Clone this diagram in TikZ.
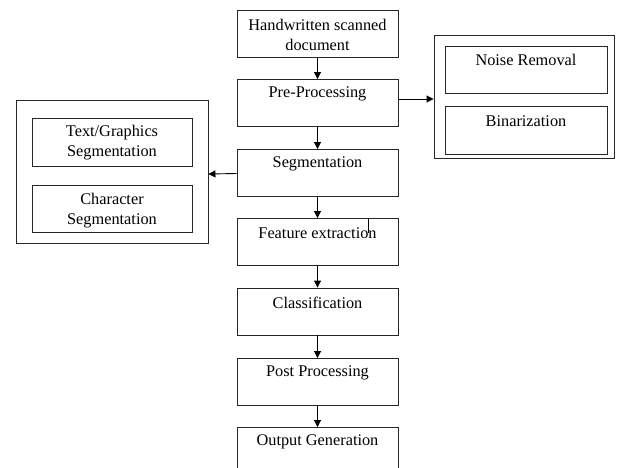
\documentclass[tikz,border=0pt]{standalone}
\usepackage{fontspec}
\setmainfont{Liberation Serif}
\usetikzlibrary{arrows.meta}
\begin{document}
\begin{tikzpicture}[x=1pt,y=-1pt,
  box/.style={draw=black!85, line width=0.9pt, inner sep=0pt, minimum width=161pt, minimum height=47pt},
  sbox/.style={draw=black!85, line width=0.9pt, inner sep=0pt},
  lbl/.style={font=\fontsize{16.3}{20.5}\selectfont, align=center, inner sep=0pt},
  arr/.style={line width=0.9pt, -{Triangle[length=7pt,width=7pt]}}]
\useasboundingbox (0,0) rectangle (618,467);
\clip (0,0) rectangle (618,467);
% main column
\node[box] (hw) at (317.5,33.5) {};
\node[lbl] (hwt) at (317.5,35) {Handwritten scanned\\document};
\node[box] (pre) at (317.5,103) {};
\node[lbl] (pret) at ([yshift=-15pt]pre.north) {Pre-Processing};
\node[box] (seg) at (317.5,173) {};
\node[lbl] (segt) at ([yshift=-15pt]seg.north) {Segmentation};
\node[box] (feat) at (317.5,242) {};
\node[lbl] (featt) at ([yshift=-15pt]feat.north) {Feature extraction};
\node[box] (cls) at (317.5,311.5) {};
\node[lbl] (clst) at ([yshift=-15pt]cls.north) {Classification};
\node[box] (post) at (317.5,382) {};
\node[lbl] (postt) at ([yshift=-15pt]post.north) {Post Processing};
\node[box] (out) at (317.5,451) {};
\node[lbl] (outt) at ([yshift=-15pt]out.north) {Output Generation};
% right group
\node[sbox, minimum width=180pt, minimum height=123pt] (rgrp) at (524,96.5) {};
\node[sbox, minimum width=162pt, minimum height=47pt] (noise) at (526,69.5) {};
\node[lbl] (noiset) at ([yshift=-14pt]noise.north) {Noise Removal};
\node[sbox, minimum width=162pt, minimum height=48pt] (bin) at (526,130) {};
\node[lbl] (bint) at ([yshift=-16pt]bin.north) {Binarization};
% left group
\node[sbox, minimum width=192pt, minimum height=143pt] (lgrp) at (112,171.5) {};
\node[sbox, minimum width=160pt, minimum height=48pt] (tg) at (112,142) {};
\node[lbl] (tgt) at ([yshift=-25pt]tg.north) {Text/Graphics\\Segmentation};
\node[sbox, minimum width=160pt, minimum height=47pt] (chr) at (112,208.5) {};
\node[lbl] (chrt) at ([yshift=-26pt]chr.north) {Character\\Segmentation};
% connectors
\draw[arr] (hw.south) -- (pre.north);
\draw[arr] (pre.south) -- (seg.north);
\draw[arr] (seg.south) -- (feat.north);
\draw[arr] (feat.south) -- (cls.north);
\draw[arr] (cls.south) -- (post.north);
\draw[arr] (post.south) -- (out.north);
\draw[arr] (pre.east |- 0,99) -- (rgrp.west |- 0,99);
\draw[arr] (seg.west |- 0,173.5) -- (lgrp.east |- 0,174);
% stray tick
\coordinate (tk) at (368,233);
\draw[line width=0.9pt] (feat.north -| tk) -- (tk);
\end{tikzpicture}
\end{document}
